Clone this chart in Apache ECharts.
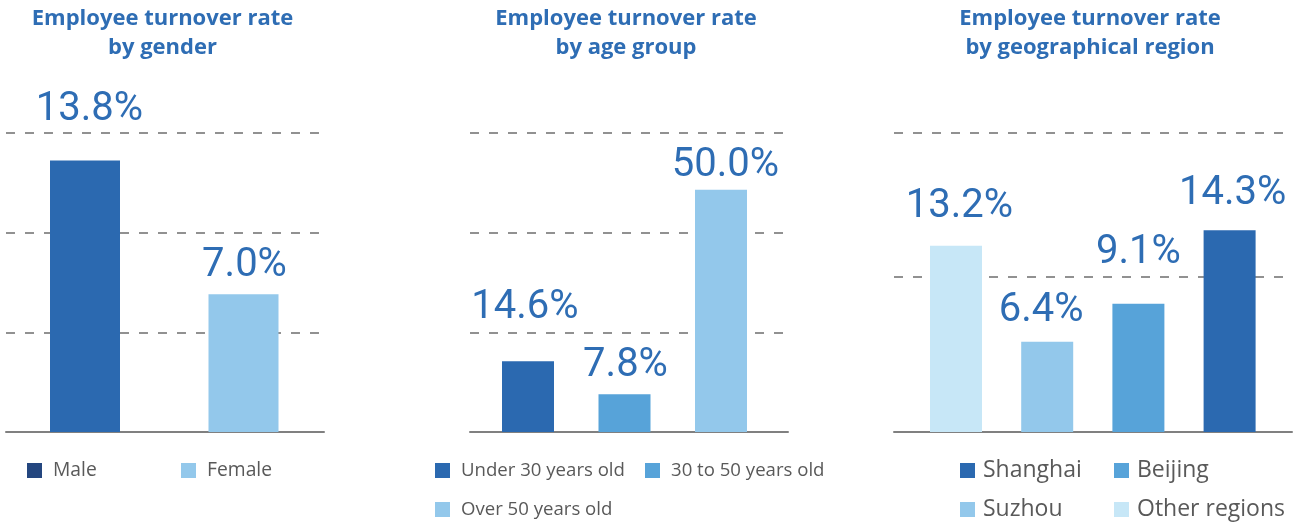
<!DOCTYPE html>
<html>
<head>
<meta charset="utf-8">
<script src="https://cdn.jsdelivr.net/npm/echarts@6/dist/echarts.min.js"></script>
<style>html,body{margin:0;padding:0;background:#fff}#c{width:1300px;height:525px}</style>
</head>
<body>
<div id="c"></div>
<script>
// ---- data ----
const genderCats = ['Male', 'Female'];
const genderVals = [13.8, 7.0];
const ageCats = ['Under 30 years old', '30 to 50 years old', 'Over 50 years old'];
const ageVals = [14.6, 7.8, 50.0];
const regionCats = ['Other regions', 'Suzhou', 'Beijing', 'Shanghai'];
const regionVals = [13.2, 6.4, 9.1, 14.3];
const titles = ['Employee turnover rate\nby gender', 'Employee turnover rate\nby age group', 'Employee turnover rate\nby geographical region'];

// ---- styling ----
const BLUE = '#2E6DB4';
const panels = [
  { cats: genderCats, vals: genderVals, title: titles[0], titleX: 162.5,
    frame: { left: 6, width: 318, max: 15, interval: 5 },
    bars: { left: 5.75, width: 317, max: 15.2, barWidth: 70 },
    colors: ['#2B69B0', '#93C8EB'], gaps: [40, 17], shifts: [4.5, 1] },
  { cats: ageCats, vals: ageVals, title: titles[1], titleX: 626,
    frame: { left: 470, width: 318, max: 60, interval: 20 },
    bars: { left: 479.75, width: 289.5, max: 61.7, barWidth: 52 },
    colors: ['#2B69B0', '#57A3D9', '#93C8EB'], gaps: [42, 17, 13], shifts: [-3, 1, 4.5] },
  { cats: regionCats, vals: regionVals, title: titles[2], titleX: 1090,
    frame: { left: 894, width: 398, max: 21.2, interval: 11 },
    bars: { left: 910.4, width: 364.8, max: 21.2, barWidth: 52 },
    colors: ['#C7E7F7', '#93C8EB', '#57A3D9', '#2B69B0'], gaps: [28, 20, 40, 25], shifts: [3.5, -6, 0, 3] }
];
const TOP = 133, BOTTOM = 93, BASE_OFF = 9;

const grid = [], xAxis = [], yAxis = [], series = [], title = [];
panels.forEach((p, pi) => {
  const fg = pi * 2, bg = pi * 2 + 1;
  grid.push({ left: p.frame.left, width: p.frame.width, top: TOP, bottom: BOTTOM });
  grid.push({ left: p.bars.left, width: p.bars.width, top: TOP, bottom: BOTTOM });
  xAxis.push({ gridIndex: fg, type: 'value', min: 0, max: 1,
    axisLine: { show: true, lineStyle: { color: '#808080', width: 2 } },
    axisTick: { show: false }, axisLabel: { show: false }, splitLine: { show: false } });
  xAxis.push({ gridIndex: bg, type: 'category', data: p.cats, show: false });
  yAxis.push({ gridIndex: fg, type: 'value', min: 0, max: p.frame.max, interval: p.frame.interval,
    axisLine: { show: false }, axisTick: { show: false }, axisLabel: { show: false },
    splitLine: { show: true, lineStyle: { color: '#6e6e6e', width: 1.5, type: [9, 10] } } });
  yAxis.push({ gridIndex: bg, type: 'value', min: 0, max: p.bars.max, show: false, splitLine: { show: false } });
  p.cats.forEach((c, i) => {
    series.push({
      type: 'bar', name: c, xAxisIndex: bg, yAxisIndex: bg, stack: 'p' + pi,
      barWidth: p.bars.barWidth,
      data: p.cats.map((_, j) => j === i ? p.vals[i] : '-'),
      itemStyle: { color: p.colors[i] },
      label: { show: true, position: 'top', distance: p.gaps[i] - BASE_OFF, offset: [p.shifts[i], 0],
        formatter: q => Number(q.value).toFixed(1) + '%',
        fontFamily: 'Roboto', fontSize: 40, lineHeight: 40, color: BLUE },
      emphasis: { disabled: true }
    });
  });
  title.push({ text: p.title, left: p.titleX, top: 4, textAlign: 'center', padding: 0,
    textStyle: { fontFamily: 'Open Sans', fontWeight: 'bold', fontSize: 22, lineHeight: 29, color: BLUE } });
});

function legend(left, names, fontSize, gapText, lh, gap, top) {
  return {
    left: left, top: top, height: 120, orient: 'vertical', padding: 0, itemGap: gap,
    itemWidth: 15, itemHeight: 15, icon: 'rect',
    data: names,
    textStyle: { fontFamily: 'Open Sans', fontSize: fontSize, lineHeight: lh, color: '#595959', padding: [0, 0, 0, gapText] }
  };
}
const legends = [
  legend(27, [{ name: genderCats[0], itemStyle: { color: '#24467F' } }], 19.3, 6, 20, 19, 460.5),
  legend(181, [genderCats[1]], 19.3, 6, 20, 19, 460.5),
  legend(435, [ageCats[0], ageCats[2]], 18.6, 6, 20, 19, 460.5),
  legend(645, [ageCats[1]], 18.6, 6, 20, 19, 460.5),
  legend(960, [regionCats[3], regionCats[1]], 23, 3, 24, 15, 458.5),
  legend(1114, [regionCats[2], regionCats[0]], 23, 3, 24, 15, 458.5)
];

const chart = echarts.init(document.getElementById('c'));
chart.setOption({ animation: false, title, grid, xAxis, yAxis, series, legend: legends });
</script>
</body>
</html>
